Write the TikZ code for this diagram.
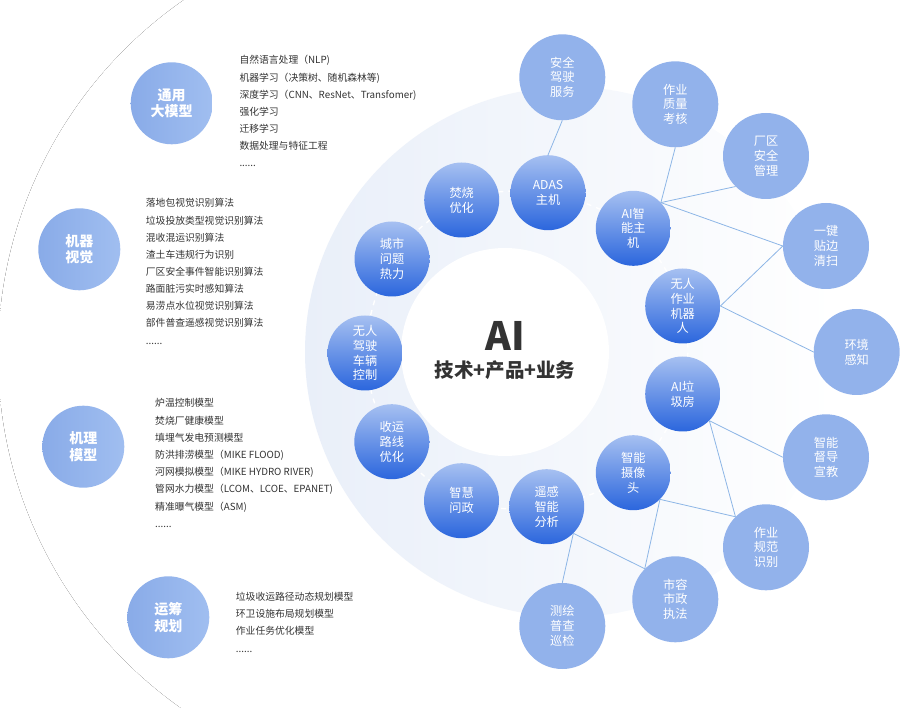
\documentclass[tikz,border=0pt]{standalone}
\usepackage{fontspec}
\setmainfont{Noto Sans CJK SC}
\usetikzlibrary{fadings}
\definecolor{bgpale}{HTML}{EBF0FA}
\definecolor{bgmid}{HTML}{E9EFF9}
\definecolor{intop}{HTML}{A6C0F1}
\definecolor{inbot}{HTML}{2B66DD}
\definecolor{outfill}{HTML}{92B2EB}
\definecolor{leftA}{HTML}{89ABE8}
\definecolor{leftB}{HTML}{A0BEF0}
\definecolor{linkc}{HTML}{8DB6E6}
\definecolor{txt}{HTML}{333333}
\newcommand\mydots{......}
\pgfdeclareradialshading{bigfade}{\pgfpoint{0bp}{0bp}}{color(0bp)=(white); color(28bp)=(white); color(50bp)=(bgpale)}
\tikzset{
  inb/.style={circle, minimum size=75pt, inner sep=0pt, top color=intop, bottom color=inbot, text=white, align=center, font=\fontsize{12.2}{14.8}\selectfont},
  outb/.style={circle, minimum size=86pt, inner sep=0pt, fill=outfill, text=white, align=center, font=\fontsize{12.2}{14.8}\selectfont},
  leftb/.style={circle, minimum size=82pt, inner sep=0pt, left color=leftA, right color=leftB, text=white, align=center, font=\fontsize{14}{16.7}\selectfont\bfseries},
  lst/.style={anchor=base west, inner sep=0pt, text=txt, font=\fontsize{9.8}{12}\selectfont},
  link/.style={draw=linkc, line width=0.8pt},
}
\begin{document}
\begin{tikzpicture}[x=1pt,y=-1pt]
\useasboundingbox (0,0) rectangle (900,708);
\begin{scope}
\clip (0,0) rectangle (620,708);
\fill[shading=bigfade] (430,355) circle (432pt);
\end{scope}
\fill[white, path fading=west] (260,-5) rectangle (621,713);
\begin{scope}
\clip (0,0) rectangle (900,708);
\shade[left color=bgmid, right color=white] (570,352) circle (265pt);
\fill[white] (505,352) circle (104pt);
\end{scope}
% dashed ring
\draw[white, line width=1.4pt, dash pattern=on 5pt off 5pt] plot[smooth cycle] coordinates {(548,192.7) (633.3,228.3) (682.7,306) (682.7,394) (633.3,472.7) (546.7,506.7) (461.5,500.7) (391.8,441.7) (365,353) (392,259) (461.7,200)};
% center text
\node[text=txt, font=\fontsize{39}{40}\selectfont\bfseries, inner sep=0pt] (ai) at (505,336) {AI};
\node[text=txt, font=\fontsize{19.5}{20}\selectfont\bfseries, inner sep=0pt] (tcy) at (505,370) {技术+产品+业务};
% inner circles
\node[inb] (adas) at (548,192.7) {ADAS\\主机};
\node[inb] (aih) at (633.3,228.3) {AI智\\能主\\机};
\node[inb] (wrzy) at (682.7,306) {无人\\作业\\机器\\人};
\node[inb] (ailj) at (682.7,394) {AI垃\\圾房};
\node[inb] (znsx) at (633.3,472.7) {智能\\摄像\\头};
\node[inb] (ygzn) at (546.7,506.7) {遥感\\智能\\分析};
\node[inb] (zhwz) at (461.5,500.7) {智慧\\问政};
\node[inb] (sylx) at (391.8,441.7) {收运\\路线\\优化};
\node[inb] (wrjs) at (365,353) {无人\\驾驶\\车辆\\控制};
\node[inb] (cswt) at (392,259) {城市\\问题\\热力};
\node[inb] (fsyh) at (461.7,200) {焚烧\\优化};
% outer circles
\node[outb] (aqjs) at (562.3,77.3) {安全\\驾驶\\服务};
\node[outb] (zyzl) at (675.3,104.3) {作业\\质量\\考核};
\node[outb] (cqaq) at (766,156) {厂区\\安全\\管理};
\node[outb] (yjtb) at (826,246) {一键\\贴边\\清扫};
\node[outb] (hjgz) at (856.7,352) {环境\\感知};
\node[outb] (zndd) at (826,457.3) {智能\\督导\\宣教};
\node[outb] (zygf) at (766,547.3) {作业\\规范\\识别};
\node[outb] (srsz) at (675.3,599.3) {市容\\市政\\执法};
\node[outb] (chpc) at (562.3,626) {测绘\\普查\\巡检};
% links
\draw[link] (adas.90) -- (aqjs.-90);
\draw[link] (aih.43) -- (zyzl.-90);
\draw[link] (aih.43) -- (cqaq.-135);
\draw[link] (aih.43) -- (yjtb.180);
\draw[link] (wrzy.0) -- (yjtb.180);
\draw[link] (wrzy.0) -- (hjgz.180);
\draw[link] (ailj.-45) -- (zndd.180);
\draw[link] (ailj.-45) -- (zygf.135);
\draw[link] (znsx.-45) -- (zygf.135);
\draw[link] (znsx.-45) -- (srsz.135);
\draw[link] (ygzn.-45) -- (srsz.135);
\draw[link] (ygzn.-45) -- (chpc.90);
% left circles
\node[leftb] (tydm) at (171.7,103.3) {通用\\大模型};
\node[leftb] (jqsj) at (79.3,249.3) {机器\\视觉};
\node[leftb] (jlmx) at (83.3,446.7) {机理\\模型};
\node[leftb] (ycgh) at (168.3,617.3) {运筹\\规划};
% lists
\foreach \t [count=\i] in {{自然语言处理（NLP)},{机器学习（决策树、随机森林等)},{深度学习（CNN、ResNet、Transfomer)},{强化学习},{迁移学习},{数据处理与特征工程},{\mydots}}
  \node[lst] (la\i) at (239.3,64+17.1*\i-17.1) {\t};
\foreach \t [count=\i] in {{落地包视觉识别算法},{垃圾投放类型视觉识别算法},{混收混运识别算法},{渣土车违规行为识别},{厂区安全事件智能识别算法},{路面脏污实时感知算法},{易涝点水位视觉识别算法},{部件普查遥感视觉识别算法},{\mydots}}
  \node[lst] (lb\i) at (145.7,207+17.14*\i-17.14) {\t};
\foreach \t [count=\i] in {{炉温控制模型},{焚烧厂健康模型},{填埋气发电预测模型},{防洪排涝模型（MIKE FLOOD)},{河网模拟模型（MIKE HYDRO RIVER)},{管网水力模型（LCOM、LCOE、EPANET)},{精准曝气模型（ASM)},{\mydots}}
  \node[lst] (lc\i) at (155,407+17.2*\i-17.2) {\t};
\foreach \t [count=\i] in {{垃圾收运路径动态规划模型},{环卫设施布局规划模型},{作业任务优化模型},{\mydots}}
  \node[lst] (ld\i) at (235.7,600.4+17.2*\i-17.2) {\t};
\end{tikzpicture}
\end{document}
